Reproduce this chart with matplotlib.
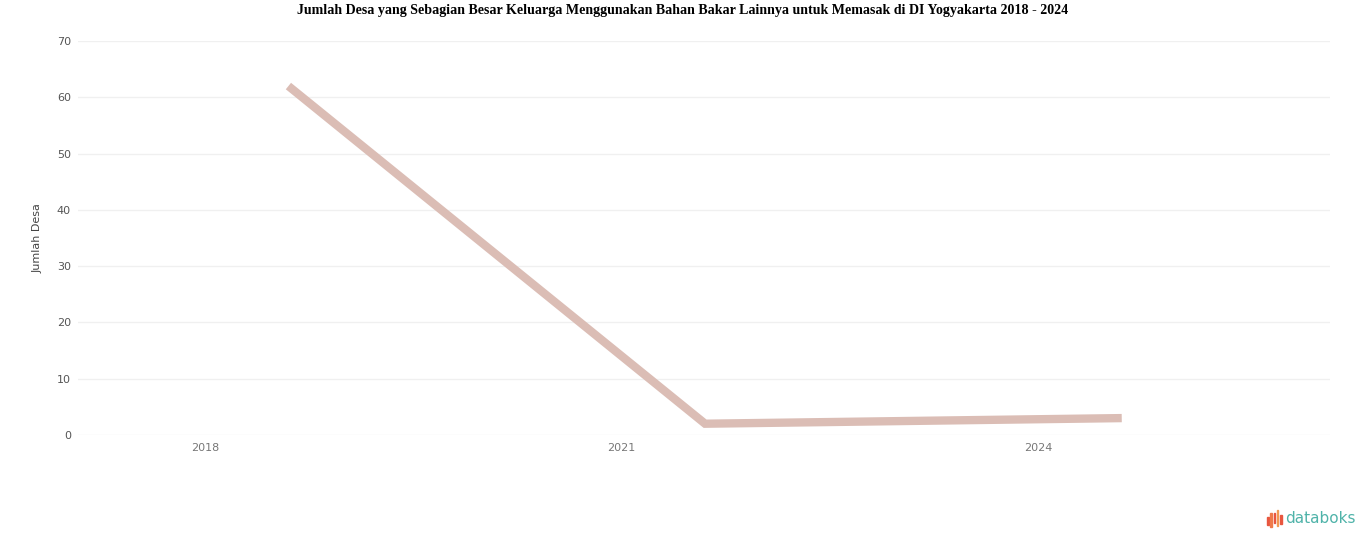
import numpy as np
import matplotlib.pyplot as plt
from matplotlib.patches import Rectangle

# Datos
tahun = ['2018', '2021', '2024']
jumlah_desa = [62, 2, 3]
yticks = [0, 10, 20, 30, 40, 50, 60, 70]

fig = plt.figure(figsize=(13.66, 5.47), dpi=100)
ax = fig.add_axes([0.0571, 0.2048, 0.9166, 0.7202])

x = np.arange(len(tahun))
ax.plot(x, jumlah_desa, '-', color='#dbbdb5', linewidth=6,
        solid_capstyle='butt', solid_joinstyle='miter', clip_on=False)

ax.set_xlim(-0.505, 2.5)
ax.set_ylim(0, 70)
ax.set_yticks(yticks)
ax.set_yticklabels([str(v) for v in yticks], fontsize=8, color='#555555')
ax.set_xticks(x - 0.2)
ax.set_xticklabels(tahun, fontsize=8, color='#777777')
ax.tick_params(axis='y', length=0, pad=5)
ax.tick_params(axis='x', length=0, pad=6)
ax.grid(True, axis='y', color='#f0f0f0', linewidth=1)
ax.set_axisbelow(True)
for s in ax.spines.values():
    s.set_visible(False)
ax.set_ylabel('Jumlah Desa', fontsize=8, color='#444444', labelpad=10)

fig.suptitle('Jumlah Desa yang Sebagian Besar Keluarga Menggunakan Bahan Bakar Lainnya untuk Memasak di DI Yogyakarta 2018 - 2024',
             family='Liberation Serif', fontweight='bold', fontsize=10.1, y=0.992)

# Logo databoks
fig.text(0.9405, 0.052, 'databoks', fontsize=11, color='#4fb3a9', ha='left', va='center')
bar_b = [0.040, 0.036, 0.044, 0.038, 0.042]
bar_h = [0.014, 0.026, 0.018, 0.030, 0.016]
bar_c = ['#e8563f', '#ef7a4a', '#e8563f', '#f29a52', '#e8563f']
for i, (b, h, c) in enumerate(zip(bar_b, bar_h, bar_c)):
    fig.add_artist(Rectangle((0.9275 + i * 0.0024, b), 0.0012, h,
                             transform=fig.transFigure, color=c))

plt.savefig('out.png', dpi=100)
